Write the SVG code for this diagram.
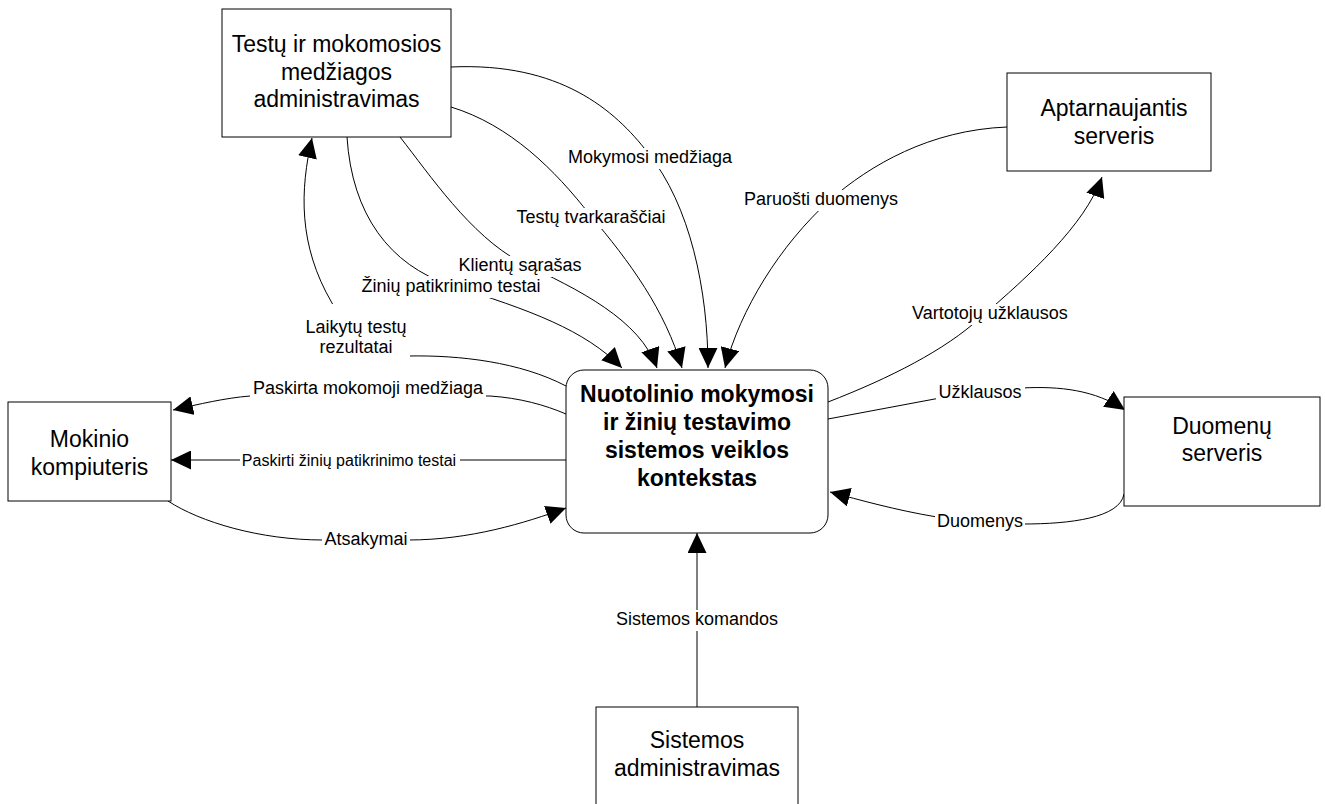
<svg xmlns="http://www.w3.org/2000/svg" width="1325" height="804" viewBox="0 0 1325 804">
  <defs>
    <style>
      .box { fill: #fff; stroke: #000; stroke-width: 1; }
      .nt { font-family: "Liberation Sans", Arial, sans-serif; font-size: 23px; text-anchor: middle; fill: #000; }
      .ct { font-family: "Liberation Sans", Arial, sans-serif; font-size: 23px; font-weight: bold; text-anchor: middle; fill: #000; }
      .flow { fill: none; stroke: #000; stroke-width: 1; marker-end: url(#arr); }
      .lb { font-family: "Liberation Sans", Arial, sans-serif; font-size: 18px; text-anchor: middle; fill: #000; }
      .bg { fill: #fff; }
    </style>
    <marker id="arr" markerUnits="userSpaceOnUse" markerWidth="20" markerHeight="19" viewBox="0 0 20 19" refX="20" refY="9.5" orient="auto">
      <path d="M0,0 L20,9.5 L0,19 z" fill="#000"/>
    </marker>
  </defs>

  <rect width="1325" height="804" fill="#fff"/>

  <!-- data flows -->
  <g id="connectors">
    <path class="flow" d="M451,67 C560,62 615,110 648,153 C690,205 708,290 708,368"/>
    <path class="flow" d="M451,107 C510,125 555,170 590,215 C630,262 665,310 682,368"/>
    <path class="flow" d="M400,137 C430,175 470,235 520,262 C580,290 640,320 657,368"/>
    <path class="flow" d="M347,137 C352,215 390,265 450,285 C530,310 585,330 622,368"/>
    <path class="flow" d="M566,386 C520,362 460,355 408,356 C375,357 345,330 332,303 C298,245 300,190 312,138"/>
    <path class="flow" d="M1007,127 C930,130 870,165 830,200 C780,245 740,310 725,368"/>
    <path class="flow" d="M828,402 C890,378 945,350 980,318 C1030,275 1085,225 1102,177"/>
    <path class="flow" d="M828,419 L940,398 C960,394 990,389 1022,388 C1060,386 1095,390 1125,410"/>
    <path class="flow" d="M1124,494 C1120,518 1070,524 1023,524 L937,517 C895,510 860,500 830,492"/>
    <path class="flow" d="M566,414 C545,405 520,398 490,396 L250,396 C225,398 200,404 173,410"/>
    <path class="flow" d="M566,460 L171,460"/>
    <path class="flow" d="M168,501 C200,522 260,540 323,540 L408,540 C470,540 525,523 566,508"/>
    <path class="flow" d="M697,707 L697,533"/>
  </g>

  <!-- flow labels -->
  <g id="labels">
    <rect class="bg" x="565" y="148" width="170" height="21"/>
    <text class="lb" x="650" y="163">Mokymosi medžiaga</text>
    <rect class="bg" x="512" y="208" width="157" height="21"/>
    <text class="lb" x="591" y="223">Testų tvarkaraščiai</text>
    <rect class="bg" x="456" y="256" width="129" height="21"/>
    <text class="lb" x="520" y="271">Klientų sąrašas</text>
    <rect class="bg" x="358" y="276" width="186" height="22"/>
    <text class="lb" x="451" y="292">Žinių patikrinimo testai</text>
    <rect class="bg" x="302" y="304" width="108" height="56"/>
    <text class="lb" x="356" y="333">Laikytų testų</text>
    <text class="lb" x="356" y="353">rezultatai</text>
    <rect class="bg" x="741" y="190" width="160" height="21"/>
    <text class="lb" x="821" y="205">Paruošti duomenys</text>
    <rect class="bg" x="908" y="304" width="164" height="21"/>
    <text class="lb" x="990" y="319">Vartotojų užklausos</text>
    <rect class="bg" x="936" y="381" width="89" height="22"/>
    <text class="lb" x="980" y="398">Užklausos</text>
    <rect class="bg" x="935" y="512" width="90" height="21"/>
    <text class="lb" x="980" y="527">Duomenys</text>
    <rect class="bg" x="250" y="379" width="236" height="21"/>
    <text class="lb" x="368" y="394">Paskirta mokomoji medžiaga</text>
    <rect class="bg" x="240" y="450" width="220" height="21"/>
    <text class="lb" x="349" y="466" style="font-size:16px">Paskirti žinių patikrinimo testai</text>
    <rect class="bg" x="322" y="530" width="88" height="21"/>
    <text class="lb" x="366" y="545">Atsakymai</text>
    <rect class="bg" x="613" y="610" width="168" height="21"/>
    <text class="lb" x="697" y="625">Sistemos komandos</text>
  </g>

  <!-- external entities and the central process -->
  <g id="node-testu-admin">
    <rect class="box" x="222" y="9" width="229" height="128"/>
    <text class="nt" x="336.5" y="52">Testų ir mokomosios</text>
    <text class="nt" x="336.5" y="80">medžiagos</text>
    <text class="nt" x="336.5" y="107">administravimas</text>
  </g>
  <g id="node-aptarnaujantis">
    <rect class="box" x="1007" y="73" width="204" height="98"/>
    <text class="nt" x="1114" y="116">Aptarnaujantis</text>
    <text class="nt" x="1114" y="144">serveris</text>
  </g>
  <g id="node-mokinio">
    <rect class="box" x="8" y="402" width="163" height="99"/>
    <text class="nt" x="89.5" y="447">Mokinio</text>
    <text class="nt" x="89.5" y="475">kompiuteris</text>
  </g>
  <g id="node-duomenu">
    <rect class="box" x="1124" y="397" width="196" height="109"/>
    <text class="nt" x="1222" y="434">Duomenų</text>
    <text class="nt" x="1222" y="461">serveris</text>
  </g>
  <g id="node-sistemos">
    <rect class="box" x="596" y="707" width="202" height="110"/>
    <text class="nt" x="697" y="748">Sistemos</text>
    <text class="nt" x="697" y="776">administravimas</text>
  </g>
  <g id="node-kontekstas">
    <rect class="box" x="566" y="370" width="262" height="163" rx="18" ry="18"/>
    <text class="ct" x="697" y="402">Nuotolinio mokymosi</text>
    <text class="ct" x="697" y="430">ir žinių testavimo</text>
    <text class="ct" x="697" y="458">sistemos veiklos</text>
    <text class="ct" x="697" y="486">kontekstas</text>
  </g>
</svg>
